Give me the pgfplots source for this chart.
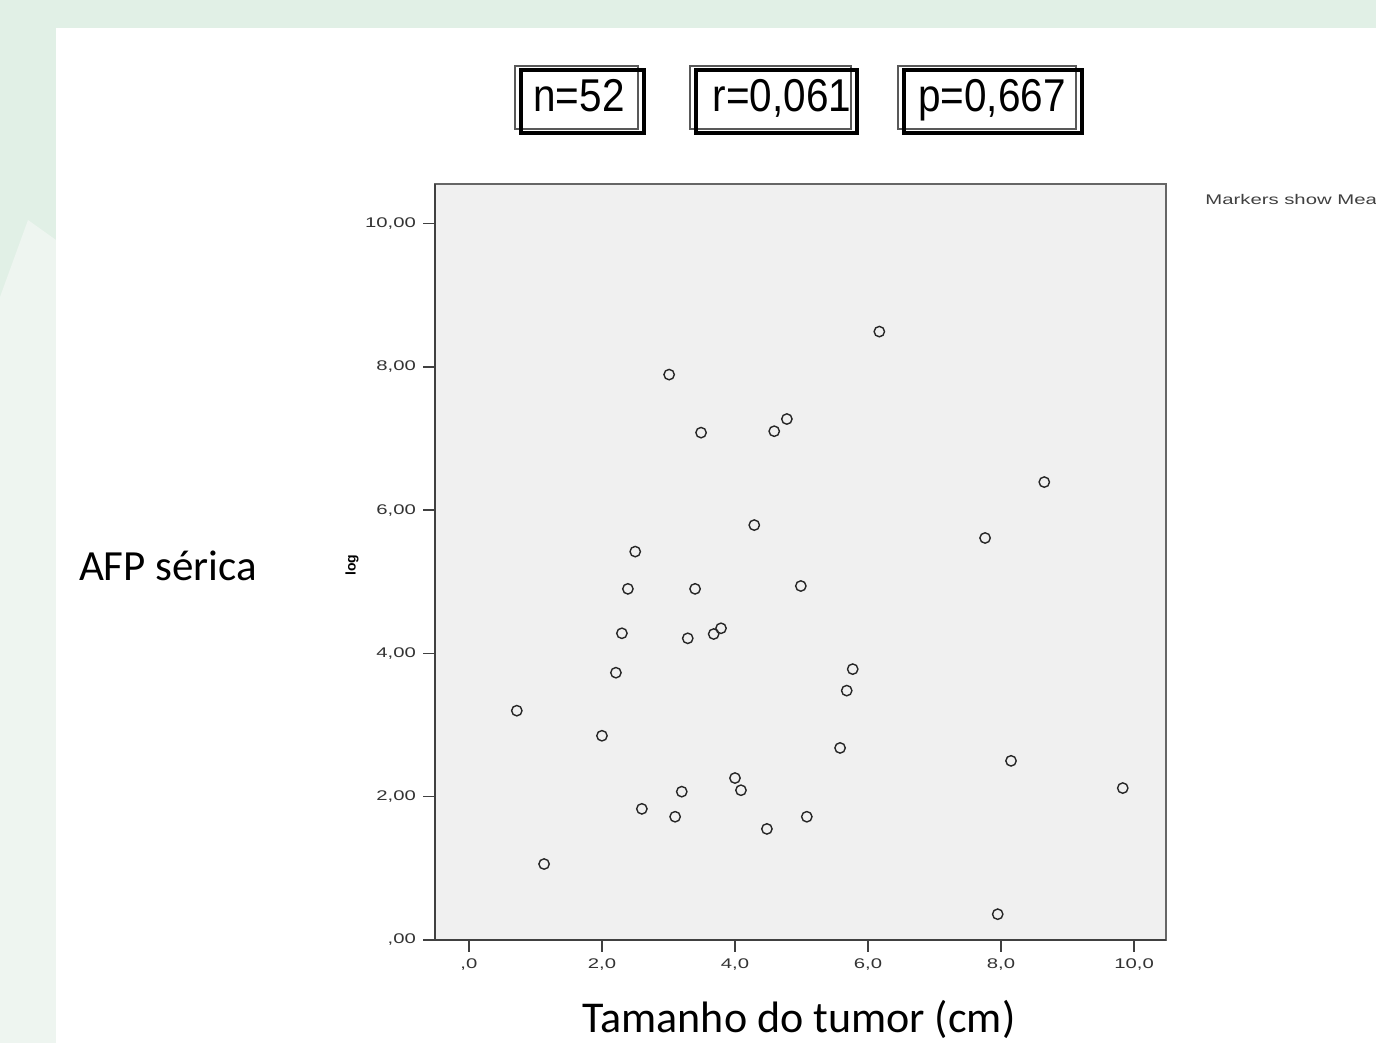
\documentclass[border=0pt]{standalone}
\usepackage{pgfplots}
\pgfplotsset{compat=1.18}
\usepackage{fontspec}
\setmainfont{Liberation Sans}
\newfontfamily\calib{Carlito}
\newfontfamily\wide[FakeStretch=1.45]{Liberation Sans}
\newfontfamily\narrow[FakeStretch=0.88]{Liberation Sans}
\definecolor{bggreen}{HTML}{E1F0E6}
\definecolor{bglight}{HTML}{EEF5F0}
\definecolor{axfill}{HTML}{F0F0F0}
\definecolor{axline}{HTML}{404040}
\begin{document}
\begin{tikzpicture}[x=0.5pt,y=0.5pt]
\useasboundingbox (0,0) rectangle (1376,1043);
\clip (0,0) rectangle (1376,1043);
\fill[bggreen] (0,0) rectangle (1376,1043);
\fill[bglight] (0,0) -- (0,746) -- (28,823) -- (56,803) -- (56,0) -- cycle;
\fill[white] (56,0) rectangle (1376,1015);
% stat boxes
\draw[gray!70!black,line width=1pt] (515,977) rectangle (638,914);
\draw[black,line width=1.6pt] (521,973) rectangle (644,910);
\node[font=\narrow\fontsize{23}{26}\selectfont, anchor=base] at (579,931) {n=52};
\draw[gray!70!black,line width=1pt] (690,977) rectangle (851,914);
\draw[black,line width=1.6pt] (696,973) rectangle (857,910);
\node[font=\narrow\fontsize{23}{26}\selectfont, anchor=base] at (782,931) {r=0,061};
\draw[gray!70!black,line width=1pt] (898,977) rectangle (1076,914);
\draw[black,line width=1.6pt] (904,973) rectangle (1082,910);
\node[font=\narrow\fontsize{23}{26}\selectfont, anchor=base] at (992,931) {p=0,667};
\begin{axis}[
  at={(217.5pt,51.5pt)}, anchor=south west,
  scale only axis, width=365.5pt, height=378pt,
  xmin=-0.51, xmax=10.48, ymin=0, ymax=10.55,
  axis background/.style={fill=axfill},
  axis line style={gray!80!black,line width=0.8pt},
  xtick pos=bottom, ytick pos=left,
  xtick={0,2,4,6,8,10},
  xticklabels={{,0},{2,0},{4,0},{6,0},{8,0},{10,0}},
  ytick={0,2,4,6,8,10},
  yticklabels={{,00},{2,00},{4,00},{6,00},{8,00},{10,00}},
  tick align=outside, major tick length=6pt,
  tick style={axline,line width=0.8pt},
  ticklabel style={font=\wide\fontsize{7}{8}\selectfont, text=black!80},
  /pgf/number format/assume math mode=true,
  clip=false,
]
\draw[axline,line width=1.1pt] (rel axis cs:0,1) -- (rel axis cs:0,0) -- (rel axis cs:1,0);
\addplot+[only marks, mark=o, mark size=2.6pt, mark options={black!85,line width=0.7pt}] coordinates {
(0.72,3.20) (1.13,1.06) (2.00,2.85) (2.21,3.73) (2.30,4.28) (2.39,4.90)
(2.50,5.42) (2.60,1.83) (3.01,7.89) (3.10,1.72) (3.20,2.07) (3.29,4.21)
(3.40,4.90) (3.49,7.08) (3.68,4.27) (3.79,4.35) (4.00,2.26) (4.09,2.09)
(4.29,5.79) (4.48,1.55) (4.59,7.10) (4.78,7.27) (4.99,4.94) (5.08,1.72)
(5.58,2.68) (5.68,3.48) (5.77,3.78) (6.17,8.49) (7.76,5.61) (7.95,0.36)
(8.15,2.50) (8.65,6.39) (9.83,2.12)
};
\end{axis}
\node[font=\bfseries\fontsize{7}{8}\selectfont, rotate=90] at (352,478) {log};
\node[font=\calib\fontsize{21.5}{24}\selectfont, anchor=west] at (72,477) {AFP sérica};
\node[font=\calib\fontsize{22}{24}\selectfont, anchor=base] at (799,10) {Tamanho do tumor (cm)};
\node[font=\wide\fontsize{7}{8}\selectfont, text=black!75, anchor=west, inner sep=0pt] at (1205,843) {Markers show Mean};
\end{tikzpicture}
\end{document}
